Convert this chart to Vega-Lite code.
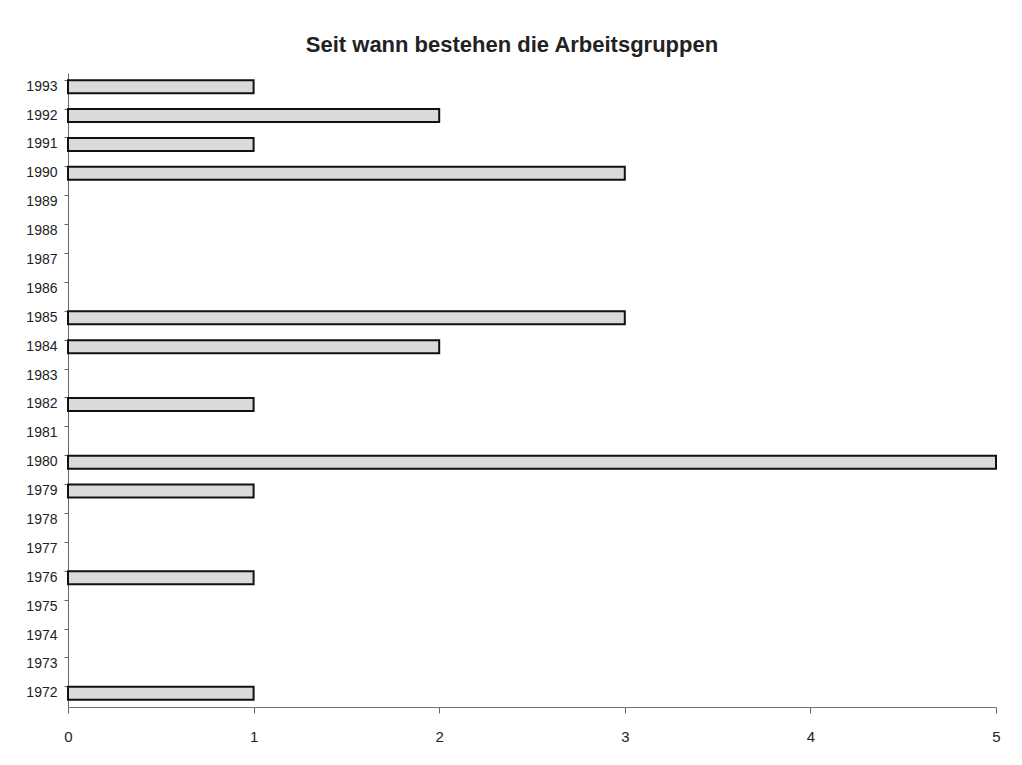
{
  "$schema": "https://vega.github.io/schema/vega-lite/v6.json",
  "autosize": "none",
  "padding": {"left": 68, "top": 73, "right": 26, "bottom": 58},
  "width": 928,
  "height": 634,
  "background": "white",
  "title": {
    "text": "Seit wann bestehen die Arbeitsgruppen",
    "font": "Liberation Sans",
    "fontSize": 22,
    "fontWeight": "bold",
    "color": "#222222",
    "dx": -20,
    "offset": 16
  },
  "data": {
    "values": [
      {"jahr": "1993", "anzahl": 1},
      {"jahr": "1992", "anzahl": 2},
      {"jahr": "1991", "anzahl": 1},
      {"jahr": "1990", "anzahl": 3},
      {"jahr": "1985", "anzahl": 3},
      {"jahr": "1984", "anzahl": 2},
      {"jahr": "1982", "anzahl": 1},
      {"jahr": "1980", "anzahl": 5},
      {"jahr": "1979", "anzahl": 1},
      {"jahr": "1976", "anzahl": 1},
      {"jahr": "1972", "anzahl": 1}
    ]
  },
  "mark": {"type": "bar", "fill": "#dadada", "stroke": "#111111", "strokeWidth": 2},
  "encoding": {
    "y": {
      "field": "jahr",
      "type": "ordinal",
      "scale": {
        "domain": ["1993","1992","1991","1990","1989","1988","1987","1986","1985","1984","1983","1982","1981","1980","1979","1978","1977","1976","1975","1974","1973","1972"],
        "paddingInner": 0.55,
        "paddingOuter": 0.25
      },
      "axis": {
        "title": null,
        "bandPosition": 0,
        "labelFont": "Liberation Sans",
        "labelFontSize": 14,
        "labelColor": "#222222",
        "labelPadding": 7,
        "domainColor": "#666666",
        "tickColor": "#666666",
        "tickSize": 4,
        "grid": false
      }
    },
    "x": {
      "field": "anzahl",
      "type": "quantitative",
      "scale": {"domain": [0, 5], "nice": false},
      "axis": {
        "title": null,
        "values": [0, 1, 2, 3, 4, 5],
        "format": "d",
        "grid": false,
        "labelFlush": false,
        "labelFont": "Liberation Sans",
        "labelFontSize": 15,
        "labelColor": "#222222",
        "labelPadding": 16,
        "domainColor": "#777777",
        "tickColor": "#666666",
        "tickSize": 6
      }
    }
  },
  "config": {"view": {"stroke": null}}
}
